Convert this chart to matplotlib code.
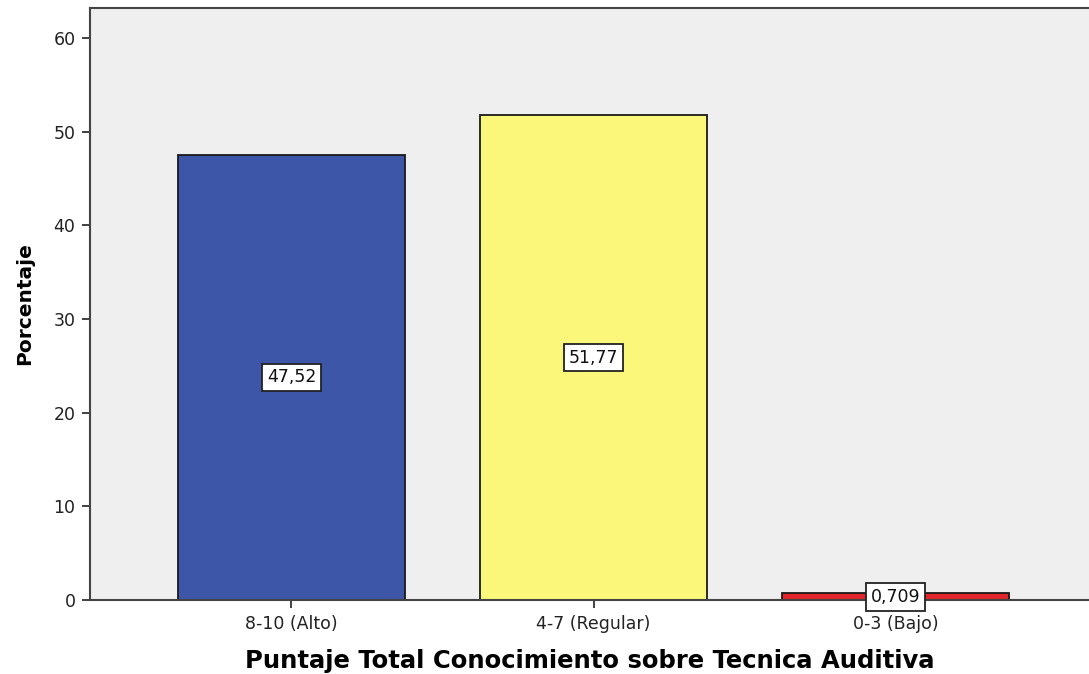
import matplotlib.pyplot as plt

# Porcentaje por nivel de conocimiento
categorias = ['8-10 (Alto)', '4-7 (Regular)', '0-3 (Bajo)']
porcentajes = [47.52, 51.77, 0.709]
colores = ['#3d56a8', '#faf77a', '#e3262b']
yticks = [0, 10, 20, 30, 40, 50, 60]

plt.rcParams['font.family'] = ['DejaVu Sans']

fig = plt.figure(figsize=(10.89, 6.74), dpi=100)
ax = fig.add_axes([90 / 1089, 74 / 674, 1 - 90 / 1089, (600 - 8) / 674])
ax.set_facecolor('#efefef')

x = list(range(len(categorias)))
ax.bar(x, porcentajes, width=0.75, color=colores, edgecolor='#1a1a1a', linewidth=1.3, zorder=2)

# etiquetas de valor en el centro de cada barra
for xi, v in zip(x, porcentajes):
    txt = f'{v:g}'.replace('.', ',')
    ax.text(xi, v / 2, txt, ha='center', va='center', fontsize=12.5, color='#111111', zorder=3,
            bbox=dict(boxstyle='square,pad=0.28', facecolor='white', edgecolor='#222222', linewidth=1.3))

ax.set_xlim(-0.667, 2.64)
ax.set_ylim(0, 63.2)
ax.set_xticks(x)
ax.set_xticklabels(categorias, fontsize=12.5, color='#222222')
ax.set_yticks(yticks)
ax.set_yticklabels([str(t) for t in yticks], fontsize=12.5, color='#222222')
ax.tick_params(direction='out', length=5.5, width=1.3, color='#333333', pad=5)

for side in ['left', 'bottom', 'top']:
    ax.spines[side].set_color('#444444')
    ax.spines[side].set_linewidth(1.5)
ax.spines['right'].set_visible(False)

ax.set_xlabel('Puntaje Total Conocimiento sobre Tecnica Auditiva', fontsize=17.5, fontweight='bold', labelpad=12)
ax.set_ylabel('Porcentaje', fontsize=14.5, fontweight='bold', labelpad=14)

fig.savefig('out.png', dpi=100)
